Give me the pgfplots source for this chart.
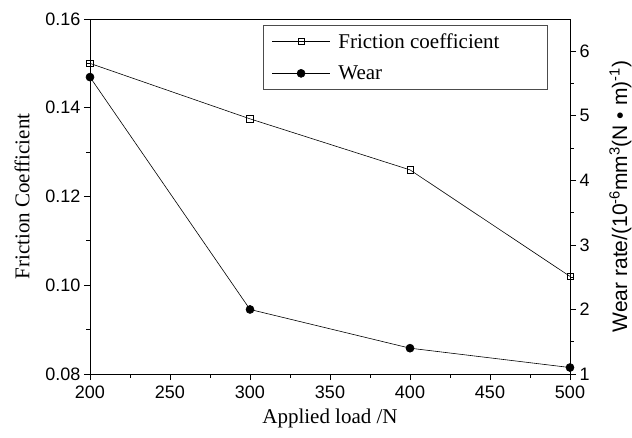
\documentclass[border=0pt]{standalone}
\usepackage{pgfplots}
\pgfplotsset{compat=1.18}
\usepackage{fontspec}
\setmainfont{Liberation Serif}
\newfontfamily\arial{Liberation Sans}
\begin{document}
\begin{tikzpicture}
% left axis: friction coefficient
\begin{axis}[scale only axis, width=480pt, height=355pt,
  xmin=200, xmax=500, ymin=0.08, ymax=0.16,
  xtick={200,250,300,350,400,450,500}, minor x tick num=1,
  ytick={0.08,0.10,0.12,0.14,0.16}, minor y tick num=1,
  xtick pos=bottom, ytick pos=left, tick align=outside,
  major tick length=6pt, minor tick length=3.5pt,
  axis line style={line width=0.8pt}, every tick/.style={line width=0.8pt, black},
  /pgf/number format/assume math mode=true,
  yticklabel style={/pgf/number format/.cd, fixed, fixed zerofill, precision=2},
  tick label style={font=\arial\fontsize{18}{20}\selectfont},
  xticklabel style={yshift=-2pt},
  label style={font=\fontsize{21}{24}\selectfont},
  xlabel={Applied load /N}, ylabel={Friction Coefficient},
  xlabel style={yshift=-4pt},
  ylabel style={yshift=9pt},
  legend style={at={(0.954,0.983)}, anchor=north east, draw=black!70, line width=0.8pt,
    font=\fontsize{21}{24}\selectfont, row sep=12pt, inner xsep=8pt, inner ysep=6pt},
  legend cell align=left,
  legend image code/.code={\draw[#1, mark repeat=2, mark phase=2] plot coordinates {(0pt,0pt) (29pt,0pt) (58pt,0pt)}; \path (64pt,0pt);}]
\addplot[black, line width=0.6pt, mark=square, mark size=3.2pt, mark options={fill=white, line width=0.6pt}]
  coordinates {(200,0.150)(300,0.1375)(400,0.126)(500,0.102)};
\addlegendentry{Friction coefficient\hspace*{38pt}}
\addlegendimage{black, line width=0.6pt, mark=*, mark size=4pt}
\addlegendentry{Wear}
\end{axis}
% right axis: wear rate
\begin{axis}[scale only axis, width=480pt, height=355pt,
  xmin=200, xmax=500, ymin=1, ymax=6.5,
  axis x line=none, axis y line*=right,
  ytick={1,2,3,4,5,6}, minor y tick num=1, tick align=outside,
  major tick length=6pt, minor tick length=3.5pt,
  axis line style={line width=0.8pt}, every tick/.style={line width=0.8pt, black},
  /pgf/number format/assume math mode=true,
  tick label style={font=\arial\fontsize{18}{20}\selectfont},
  ylabel={\arial\fontsize{21}{23}\selectfont Wear rate/(10\textsuperscript{-6}mm\textsuperscript{3}(N • m)\textsuperscript{-1})},
  ylabel style={yshift=-13pt}]
\addplot[black, line width=0.6pt, mark=*, mark size=4pt]
  coordinates {(200,5.6)(300,2.0)(400,1.4)(500,1.1)};
\end{axis}
\pgfresetboundingbox
\path[use as bounding box] (-90pt,-63pt) rectangle (542pt,374pt);
\end{tikzpicture}
\end{document}
